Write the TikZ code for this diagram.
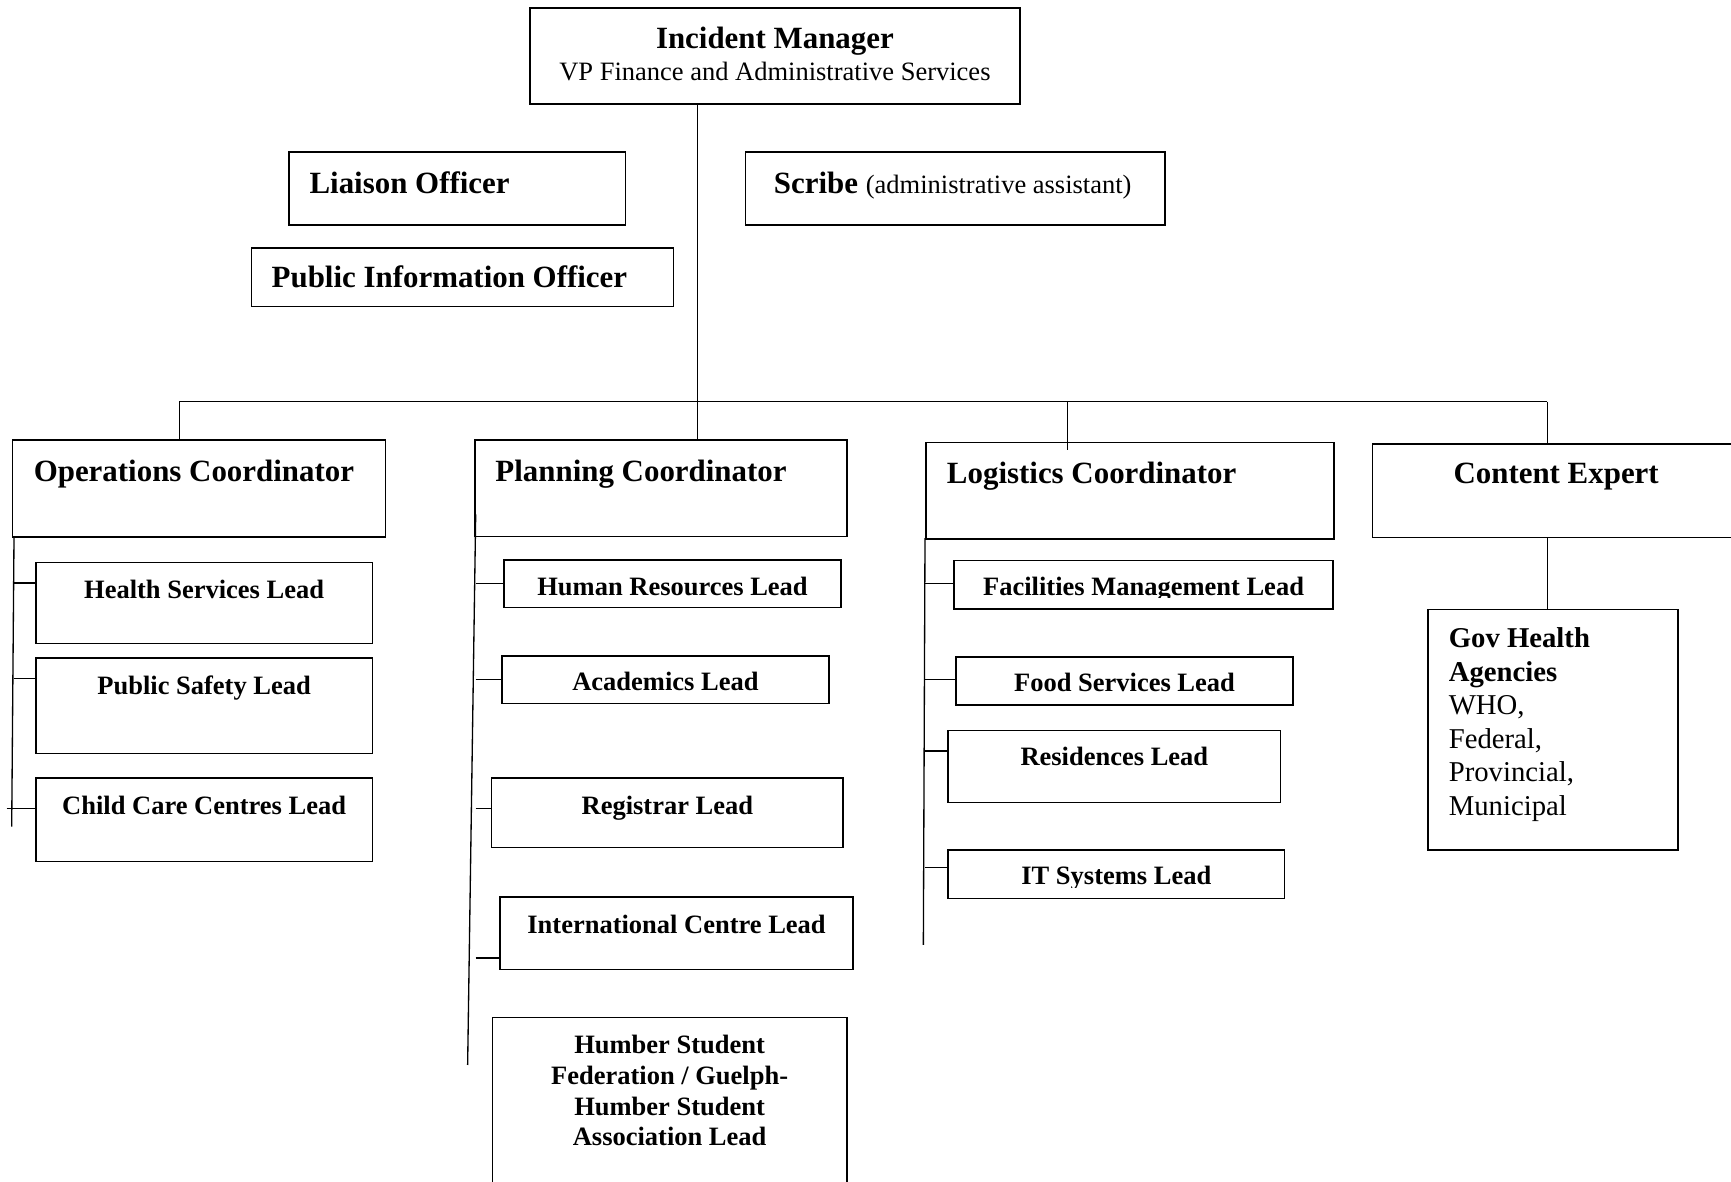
\documentclass[tikz,border=0pt]{standalone}
\usepackage{fontspec}
\setmainfont{Liberation Serif}
\usetikzlibrary{positioning}

\tikzset{
  box/.style 2 args={draw, line width=0.7pt, anchor=north west, inner sep=0pt,
    minimum width=#1*0.5pt, minimum height=#2*0.5pt},
  head/.style={inner sep=0pt, font=\fontsize{14pt}{16pt}\selectfont\bfseries},
  lead/.style={inner sep=0pt, anchor=base, font=\fontsize{12pt}{14pt}\selectfont\bfseries},
  link/.style={line width=0.6pt}
}

\begin{document}
\begin{tikzpicture}[x=0.5pt,y=-0.5pt]
		\clip (0,0) rectangle (1568,1070);

		% incident manager
		\node[box={444.1}{87}] (im) at (479.2,6.6) {};
		\node[head, anchor=base] (im-t) at (im.north |- 0,43.8) {Incident Manager};
		\node[inner sep=0pt, anchor=base, font=\fontsize{12pt}{14pt}\selectfont] (im-s) at (im.north |- 0,72.5) {VP Finance and Administrative Services};

		% staff
		\node[box={305.1}{66.1}] (lo) at (260.9,136.8) {};
		\node[head, anchor=base west] (lo-t) at (280,175) {Liaison Officer};
		\node[box={380.2}{66.1}] (sc) at (674.6,136.8) {};
		\node[head, anchor=base west] (sc-t) at (700.7,175) {Scribe {\normalfont\fontsize{12pt}{14pt}\selectfont (administrative assistant)}};
		\node[box={382.3}{52.9}] (pio) at (227.2,224) {};
		\node[head, anchor=base west] (pio-t) at (245.7,260.3) {Public Information Officer};

		% coordinators
		\node[box={338.1}{87.7}] (ops) at (10.6,397.9) {};
		\node[head, anchor=base west] (ops-t) at (30.2,436.3) {Operations Coordinator};
		\node[box={336.6}{87.4}] (pl) at (429.7,398) {};
		\node[head, anchor=base west] (pl-t) at (448.4,436.6) {Planning Coordinator};
		\node[box={369.7}{87.3}] (lg) at (838.2,400.1) {};
		\node[head, anchor=base west] (lg-t) at (857.4,438) {Logistics Coordinator};
		\node[box={420}{84.5}] (ce) at (1242.5,401.6) {};
		\node[head, anchor=base] (ce-t) at (1409.6,437.8) {Content Expert};

		% operations leads
		\node[box={305}{73.3}] (hs) at (31.7,508.8) {};
		\node[lead] (hs-t) at (hs.north |- 0,542) {Health Services Lead};
		\node[box={305}{86.4}] (ps) at (31.7,595.4) {};
		\node[lead] (ps-t) at (ps.north |- 0,629.5) {Public Safety Lead};
		\node[box={305}{75.6}] (cc) at (31.7,704) {};
		\node[lead] (cc-t) at (cc.north |- 0,738) {Child Care Centres Lead};

		% planning leads
		\node[box={305}{43.1}] (hr) at (456,506.4) {};
		\node[lead] (hr-t) at (hr.north |- 0,539.4) {Human Resources Lead};
		\node[box={296.5}{43}] (ac) at (453.8,593.4) {};
		\node[lead] (ac-t) at (ac.north |- 0,625.5) {Academics Lead};
		\node[box={318.3}{62.8}] (rg) at (444.7,704) {};
		\node[lead] (rg-t) at (rg.north |- 0,737.4) {Registrar Lead};
		\node[box={319.7}{65.4}] (ic) at (452.3,812) {};
		\node[lead] (ic-t) at (ic.north |- 0,845.8) {International Centre Lead};
		\node[box={320.9}{220}] (hu) at (445.4,920.9) {};
		% base of a multi-line node sits on its last line
		\node[lead, align=center] (hu-t) at (hu.north |- 0,1038) {Humber Student\\Federation / Guelph-\\Humber Student\\Association Lead};

		% logistics leads
		\node[box={343.3}{43.8}] (fm) at (863.5,507.2) {};
		\begin{scope}
			\clip (fm.north west) rectangle (fm.east |- 0,541);
			\node[lead] (fm-t) at (fm.north |- 0,539) {Facilities Management Lead};
		\end{scope}
		\node[box={305.2}{43.5}] (fs) at (865.3,594.2) {};
		\node[lead] (fs-t) at (fs.north |- 0,626.5) {Food Services Lead};
		\node[box={301.4}{64.9}] (rs) at (858,661.2) {};
		\node[lead] (rs-t) at (rs.north |- 0,693) {Residences Lead};
		\node[box={305}{43.8}] (it) at (858,769.3) {};
		\begin{scope}
			\clip (it.north west) rectangle (it.east |- 0,803.5);
			\node[lead] (it-t) at (it.north |- 0,801.6) {IT Systems Lead};
		\end{scope}

		% content expert
		\node[box={226.6}{218}] (gh) at (1292.8,551.4) {};
		\node[inner sep=0pt, anchor=base west, align=left, font=\fontsize{13pt}{15.15pt}\selectfont] (gh-t) at (1312,738.3) {\textbf{Gov Health}\\\textbf{Agencies}\\WHO,\\Federal,\\Provincial,\\Municipal};

		% trunk and bus
		\coordinate (trunk) at (631.7,363.8);
		\coordinate (bus-l) at (162.4,363.8);
		\coordinate (bus-r) at (1401.6,363.8);
		\coordinate (lg-drop) at (967.1,363.8);
		\draw[link] (im.south -| trunk) -- (pl.north -| trunk);
		\draw[link] (bus-l) -- (bus-r);
		\draw[link] (bus-l) -- (bus-l |- ops.north);
		\draw[link] (lg-drop) -- ([yshift=-3.75pt]lg-drop |- lg.north);
		\draw[link] (bus-r) -- (bus-r |- ce.north);
		\draw[link] (bus-r |- ce.south) -- (bus-r |- gh.north);

		% operations spine
		\coordinate (ops-sp) at (12.7,485.6);
		\coordinate (ops-end) at (10.6,748.8);
		\draw[link] (ops-sp) -- (ops-end);
		\foreach \b/\y in {hs/528, ps/614.9}
			\draw[link] (ops-sp |- 0,\y) -- (\b.west |- 0,\y);
		\draw[link] ([xshift=-3.3pt]ops-sp |- 0,732.2) -- (cc.west |- 0,732.2);

		% planning spine
		\coordinate (pl-sp) at (430.9,466);
		\coordinate (pl-end) at (423.6,964.7);
		\draw[link] (pl-sp) -- (pl-end);
		\foreach \b/\y in {hr/528.5, ac/615.3, rg/732.6, ic/867.8}
			\draw[link] (pl-sp |- 0,\y) -- (\b.west |- 0,\y);

		% logistics spine
		\coordinate (lg-sp) at (837.9,487.4);
		\coordinate (lg-end) at (836.4,856);
		\draw[link] (lg-sp) -- (lg-end);
		\foreach \b/\y in {fm/528.4, fs/615.3, rs/680.3, it/785.9}
			\draw[link] (lg-sp |- 0,\y) -- (\b.west |- 0,\y);
	\end{tikzpicture}
\end{document}
